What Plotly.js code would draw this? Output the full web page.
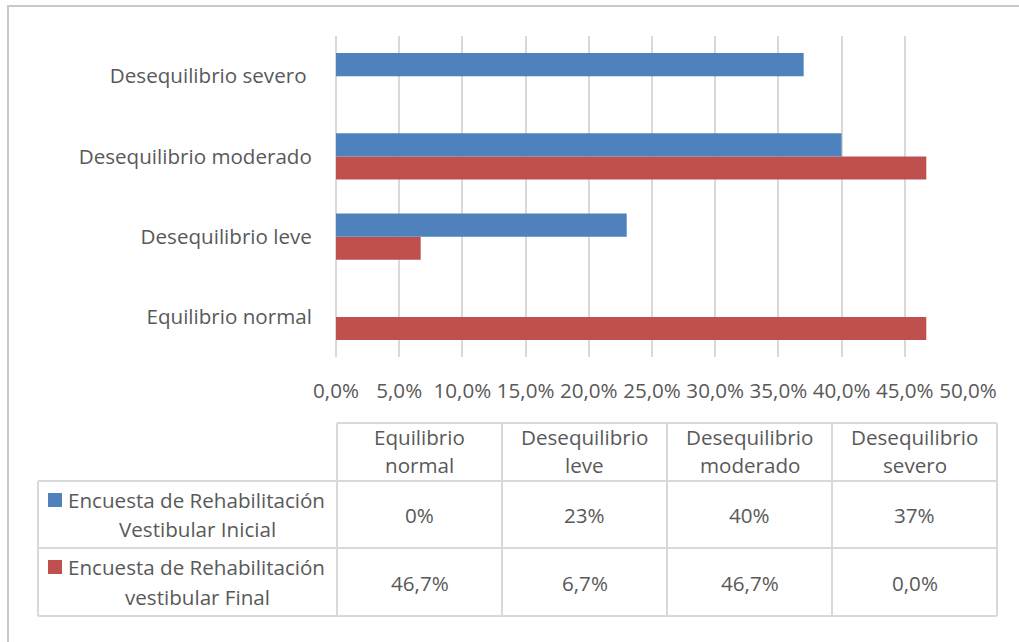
<!DOCTYPE html>
<html>
<head>
<meta charset="utf-8">
<script src="https://cdn.plot.ly/plotly-3.0.1.min.js"></script>
<style>
  html, body { margin: 0; padding: 0; background: #fff; }
  #chart { width: 1019px; height: 642px; }
</style>
</head>
<body>
<div id="chart"></div>
<script>
// Categories, bottom to top on the chart
const categories = ['Equilibrio normal', 'Desequilibrio leve', 'Desequilibrio moderado', 'Desequilibrio severo'];
// Axis labels for the categories
const categoryLabels = ['Equilibrio normal', 'Desequilibrio leve', 'Desequilibrio moderado', 'Desequilibrio severo\u00a0'];
// Table header labels (two lines each)
const headerLine1 = ['Equilibrio', 'Desequilibrio', 'Desequilibrio', 'Desequilibrio'];
const headerLine2 = ['normal', 'leve', 'moderado', 'severo'];

// Series values in percent
const inicialValues = [0, 23, 40, 37];
const finalValues = [46.7, 6.7, 46.7, 0.0];

const inicialName = ['Encuesta de Rehabilitación', 'Vestibular Inicial'];
const finalName = ['Encuesta de Rehabilitación', 'vestibular Final'];

const xTicks = [0, 5, 10, 15, 20, 25, 30, 35, 40, 45, 50];

// --- layout geometry (pixels) ---
const W = 1019, H = 642;
const plotL = 336, plotR = 968, plotT = 36, plotB = 357;
const px = x => (x - plotL) / (plotR - plotL);
const py = y => (plotB - y) / (plotB - plotT);

const BLUE = '#4F81BD', RED = '#C0504D', TXT = '#595959', GRID = '#D9D9D9';
const FONT = '"Open Sans", Lato, sans-serif';
const FS = 20.6;

const fmt = (v, dec) => v.toFixed(dec).replace('.', ',') + '%';

const traces = [
  { type: 'bar', orientation: 'h', y: categories, x: finalValues, name: finalName.join(' '),
    marker: { color: RED }, hoverinfo: 'skip' },
  { type: 'bar', orientation: 'h', y: categories, x: inicialValues, name: inicialName.join(' '),
    marker: { color: BLUE }, hoverinfo: 'skip' }
];

// Data table beneath the chart
const colEdges = [337, 502, 667, 832, 997];
const rowEdges = { headTop: 423, headBot: 481, r1Bot: 548, r2Bot: 616 };
const tableL = 38;

const shapes = [];
const line = (x0, y0, x1, y1) => shapes.push({
  type: 'line', xref: 'paper', yref: 'paper',
  x0: px(x0), y0: py(y0), x1: px(x1), y1: py(y1),
  line: { color: GRID, width: 2 }
});
line(colEdges[0], rowEdges.headTop, colEdges[4], rowEdges.headTop);
[rowEdges.headBot, rowEdges.r1Bot, rowEdges.r2Bot].forEach(y => line(tableL, y, colEdges[4], y));
line(tableL, rowEdges.headBot, tableL, rowEdges.r2Bot);
colEdges.forEach(x => line(x, rowEdges.headTop, x, rowEdges.r2Bot));

// legend keys in the row headers
const key = (y, color) => shapes.push({
  type: 'rect', xref: 'paper', yref: 'paper',
  x0: px(48), x1: px(62), y0: py(y - 7), y1: py(y + 7),
  fillcolor: color, line: { width: 0 }
});
key(500, BLUE);
key(567, RED);

// outer frame
shapes.push({
  type: 'rect', xref: 'paper', yref: 'paper',
  x0: px(8), y0: py(6), x1: px(W + 30), y1: py(H + 30),
  line: { color: '#C8C8C8', width: 2 }, fillcolor: 'rgba(0,0,0,0)', layer: 'below'
});

const annotations = [];
const txt = (x, y, text, anchor) => annotations.push({
  xref: 'paper', yref: 'paper', x: px(x), y: py(y), text: text,
  showarrow: false, xanchor: anchor || 'center', yanchor: 'middle',
  font: { family: FONT, size: FS, color: TXT }
});

for (let i = 0; i < categories.length; i++) {
  const cx = (colEdges[i] + colEdges[i + 1]) / 2;
  txt(cx, 437, headerLine1[i]);
  txt(cx, 465, headerLine2[i]);
  txt(cx, 515, fmt(inicialValues[i], 0));
  txt(cx, 583, fmt(finalValues[i], 1));
}
txt(66, 500, inicialName[0], 'left');
txt(197, 529, inicialName[1]);
txt(66, 567, finalName[0], 'left');
txt(197, 597, finalName[1]);

const layout = {
  width: W, height: H,
  margin: { l: plotL, r: W - plotR, t: plotT, b: H - plotB, pad: 0 },
  paper_bgcolor: '#fff', plot_bgcolor: '#fff',
  showlegend: false,
  barmode: 'group', bargap: 0.423, bargroupgap: 0,
  separators: ',.',
  font: { family: FONT, size: FS, color: TXT },
  xaxis: {
    range: [0, 50], tickmode: 'array', tickvals: xTicks,
    ticktext: xTicks.map(v => fmt(v, 1)),
    showgrid: true, gridcolor: GRID, gridwidth: 2,
    zeroline: true, zerolinecolor: GRID, zerolinewidth: 2,
    showline: false, tickangle: 0,
    ticks: 'outside', ticklen: 15, tickcolor: 'rgba(0,0,0,0)',
    tickfont: { family: FONT, size: FS, color: TXT }, fixedrange: true
  },
  yaxis: {
    type: 'category', categoryorder: 'array', categoryarray: categories,
    tickmode: 'array', tickvals: categories, ticktext: categoryLabels,
    showgrid: false, zeroline: false, showline: false,
    ticks: 'outside', ticklen: 19, tickcolor: 'rgba(0,0,0,0)',
    tickfont: { family: FONT, size: FS, color: TXT }, fixedrange: true
  },
  shapes: shapes,
  annotations: annotations
};

Plotly.newPlot('chart', traces, layout, { staticPlot: true, displayModeBar: false });
</script>
</body>
</html>
